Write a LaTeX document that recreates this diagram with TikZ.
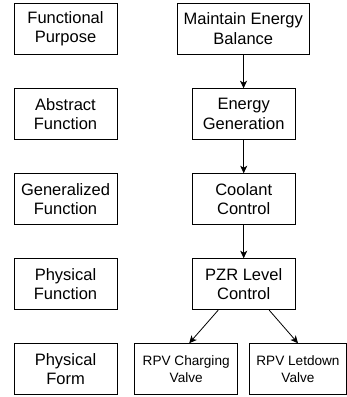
\documentclass[tikz,border=0pt]{standalone}
\usepackage{fontspec}
\setmainfont{Liberation Sans}
\usetikzlibrary{arrows.meta,calc}
\begin{document}
\begin{tikzpicture}[x=1pt,y=-1pt,
  box/.style={draw=black,line width=0.9pt,minimum height=51pt,inner sep=0pt,align=center,
    font=\fontsize{16.5}{19.7}\selectfont},
  lbox/.style={box,minimum width=103pt},
  small/.style={box,font=\fontsize{13.6}{16.7}\selectfont},
  arr/.style={draw=black,line width=0.8pt,-{Stealth[length=7.5pt,width=7pt,inset=2pt]}}]
\useasboundingbox (0,0) rectangle (347,397);
% left column
\node[lbox] (fp) at (65.5,28.8) {Functional\\Purpose};
\node[lbox] (af) at (65.5,114.2) {Abstract\\Function};
\node[lbox] (gf) at (65.5,199.2) {Generalized\\Function};
\node[lbox] (pf) at (65.5,284.2) {Physical\\Function};
% right column
\node[box,minimum width=132pt] (meb) at (243.3,28.8) {Maintain Energy\\Balance};
\node[lbox] (eg) at (243.7,114.2) {Energy\\Generation};
\node[lbox] (cc) at (243.7,199.2) {Coolant\\Control};
\node[lbox] (pzr) at (243.7,284.2) {PZR Level\\Control};
% bottom row (cropped)
\begin{scope}
\clip (0,0) rectangle (347,394.3);
\node[lbox] (pform) at (65.5,369.2) {Physical\\Form};
\node[small,minimum width=103pt] (cv) at (186.2,369.2) {RPV Charging\\Valve};
\node[small,minimum width=96.5pt] (lv) at (298,369.2) {RPV Letdown\\Valve};
\end{scope}
% connectors
\draw[arr] (meb) -- (eg);
\draw[arr] (eg) -- (cc);
\draw[arr] (cc) -- (pzr);
\draw[arr] ($(pzr.south)+(-25.5,0)$) -- ($(cv.north)+(3,0)$);
\draw[arr] ($(pzr.south)+(25.5,0)$) -- (lv.north);
\end{tikzpicture}
\end{document}
